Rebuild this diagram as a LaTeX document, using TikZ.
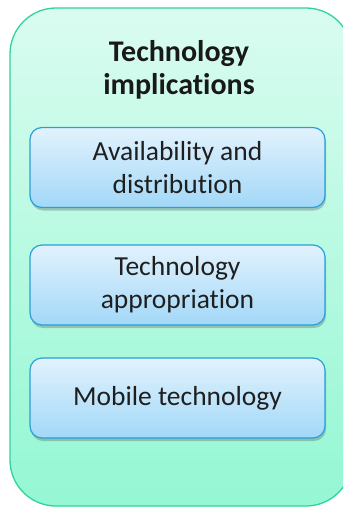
\documentclass[tikz,border=0pt]{standalone}
\usepackage{fontspec}
\setmainfont{Carlito}[Ligatures=NoCommon]
\definecolor{PanelTop}{HTML}{DAFCF0}
\definecolor{PanelBottom}{HTML}{94F7D3}
\definecolor{PanelBorder}{HTML}{2ED49C}
\definecolor{ItemTop}{HTML}{E2F2FD}
\definecolor{ItemBottom}{HTML}{A2D8F8}
\definecolor{ItemBorder}{HTML}{2A9FD8}
\usetikzlibrary{shadows}
\tikzset{
    outer panel/.style={
        draw=PanelBorder, line width=1.3pt, rounded corners=46pt,
        top color=PanelTop, bottom color=PanelBottom,
        minimum width=342pt, minimum height=498pt
    },
    title text/.style={
        align=center, font=\fontsize{30}{33}\selectfont\bfseries, text=black!90
    },
    item box/.style={
        draw=ItemBorder, line width=1.2pt, rounded corners=12pt,
        top color=ItemTop, bottom color=ItemBottom,
        minimum width=295pt, minimum height=80pt, align=center,
        font=\fontsize{27.5}{33}\selectfont, text=black!88,
        drop shadow={shadow xshift=1pt, shadow yshift=-3pt, opacity=0.3, fill=black!70}
    }
}

\begin{document}
\begin{tikzpicture}[x=1pt, y=-1pt]

\useasboundingbox (0,0) rectangle (343,508);
\clip (0,0) rectangle (343,508);

% Panel de fondo.
\node[outer panel] (panel) at (181,257) {};

% Titulo.
\node[title text] (title) at (179,70) {Technology\\implications};

% Cajas interiores.
\node[item box] (avail) at (177.5,167.5) {Availability and\\distribution};
\node[item box] (approp) at (177.5,285) {Technology\\appropriation};
\node[item box] (mobile) at (177.5,398) {Mobile technology};

\end{tikzpicture}
\end{document}
